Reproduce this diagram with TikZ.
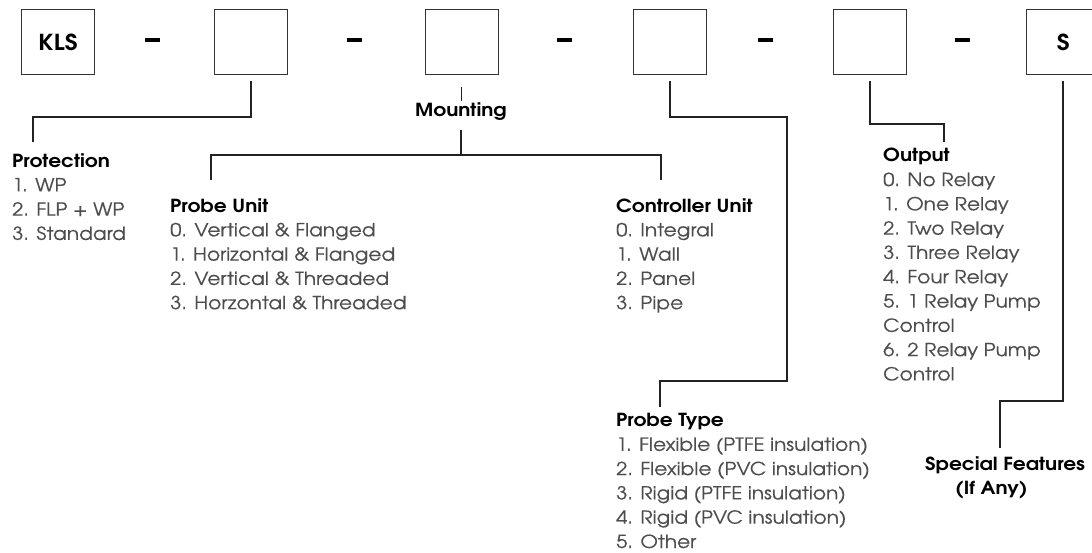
\documentclass[tikz,border=0pt]{standalone}
\usepackage{fontspec}
\setmainfont{TeX Gyre Adventor}[FakeStretch=1.12, UprightFeatures={FakeBold=0.35}]
\definecolor{itemgray}{HTML}{4D4D4D}
\definecolor{linegray}{HTML}{222222}
\definecolor{boxgray}{HTML}{333333}
\tikzset{
  codebox/.style={draw=boxgray, line width=1.3pt, minimum width=73pt, minimum height=65pt,
    inner sep=0pt, anchor=north west, font=\bfseries\fontsize{22}{22}\selectfont},
  sepdash/.style={fill=black, draw=none, minimum width=15pt, minimum height=4pt, inner sep=0pt},
  conn/.style={draw=linegray, line width=1.6pt},
  listblock/.style={anchor=north west, align=left, inner sep=0pt, text=itemgray,
    font=\fontsize{18}{24.3}\selectfont},
  headtext/.style={inner sep=0pt, text=black, font=\bfseries\fontsize{18}{24.3}\selectfont}
}
\newcommand{\hd}[1]{\textcolor{black}{\bfseries #1}}
\begin{document}
\begin{tikzpicture}[x=1pt,y=-1pt]
\useasboundingbox (0,0) rectangle (1092,552);
% code boxes
\node[codebox] (b1) at (21,9) {KLS};
\node[codebox] (b2) at (214,9) {};
\node[codebox] (b3) at (424.5,9) {};
\node[codebox] (b4) at (633,9) {};
\node[codebox] (b5) at (833,9) {};
\node[codebox] (b6) at (1026,9) {S};
% separators
\node[sepdash] (d1) at (152.5,40) {};
\node[sepdash] (d2) at (354.5,40) {};
\node[sepdash] (d3) at (564.5,40) {};
\node[sepdash] (d4) at (765.5,40) {};
\node[sepdash] (d5) at (962.5,40) {};
% text blocks
\node[listblock] (prot) at (12,153) {\hd{Protection}\\1. WP\\2. FLP + WP\\3. Standard};
\node[headtext] (mount) at (461,112) {Mounting};
\node[listblock] (pu) at (170,198) {\hd{Probe Unit}\\0. Vertical \& Flanged\\1. Horizontal \& Flanged\\2. Vertical \& Threaded\\3. Horzontal \& Threaded};
\node[listblock] (cu) at (616,198) {\hd{Controller Unit}\\0. Integral\\1. Wall\\2. Panel\\3. Pipe};
\node[listblock] (out) at (883,148) {\hd{Output}\\0. No Relay\\1. One Relay\\2. Two Relay\\3. Three Relay\\4. Four Relay\\5. 1 Relay Pump\\Control\\6. 2 Relay Pump\\Control};
\node[listblock] (pt) at (616,413) {\hd{Probe Type}\\1. Flexible (PTFE insulation)\\2. Flexible (PVC insulation)\\3. Rigid (PTFE insulation)\\4. Rigid (PVC insulation)\\5. Other};
\node[listblock, text=black, font=\bfseries\fontsize{18}{24.3}\selectfont] (sf) at (925,456) {Special Features\\\hspace*{30pt}(If Any)};
% connectors
\draw[conn] ([yshift=-6pt]b2.south) |- (33,117) -- (33,142);
\draw[conn] ([yshift=-12pt]b3.south) -- ++(0,14);
\draw[conn] (mount.center |- 0,130) -- (mount.center |- 0,155);
\draw[conn] (211,180) |- (661,155) -- (661,180);
\draw[conn] ([yshift=-6pt]b4.south) |- (787,117) |- (660,381) -- (660,407);
\draw[conn] ([yshift=-6pt]b5.south) |- (944,124) -- (944,142);
\draw[conn] ([yshift=-6pt]b6.south) |- (1000,401) -- (1000,448);
\end{tikzpicture}
\end{document}
